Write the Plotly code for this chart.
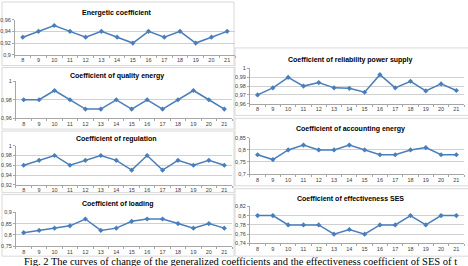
import plotly.graph_objects as go

W, H = 468, 266

hours = [8, 9, 10, 11, 12, 13, 14, 15, 16, 17, 18, 19, 20, 21]

energetic = [0.93, 0.94, 0.95, 0.94, 0.93, 0.94, 0.93, 0.92, 0.94, 0.93, 0.94, 0.92, 0.93, 0.94]
quality = [0.98, 0.98, 0.99, 0.98, 0.97, 0.97, 0.98, 0.97, 0.98, 0.97, 0.98, 0.99, 0.98, 0.97]
regulation = [0.96, 0.97, 0.98, 0.96, 0.97, 0.98, 0.97, 0.95, 0.98, 0.95, 0.97, 0.96, 0.97, 0.96]
loading = [0.81, 0.82, 0.83, 0.84, 0.87, 0.82, 0.83, 0.86, 0.87, 0.87, 0.85, 0.83, 0.85, 0.83]
reliability = [0.970, 0.978, 0.990, 0.980, 0.984, 0.978, 0.9775, 0.973, 0.993, 0.978, 0.9855, 0.9745, 0.9825, 0.975]
accounting = [0.78, 0.76, 0.80, 0.82, 0.80, 0.80, 0.82, 0.80, 0.78, 0.78, 0.80, 0.81, 0.78, 0.78]
effectiveness = [0.80, 0.80, 0.78, 0.78, 0.78, 0.76, 0.77, 0.76, 0.78, 0.78, 0.80, 0.78, 0.80, 0.80]

ticks_energetic = [0.9, 0.92, 0.94, 0.96]
labels_energetic = ["0,9", "0,92", "0,94", "0,96"]
ticks_quality = [0.96, 0.98, 1.0]
labels_quality = ["0,96", "0,98", "1"]
ticks_regulation = [0.92, 0.94, 0.96, 0.98, 1.0]
labels_regulation = ["0,92", "0,94", "0,96", "0,98", "1"]
ticks_loading = [0.75, 0.8, 0.85, 0.9]
labels_loading = ["0,75", "0,8", "0,85", "0,9"]
ticks_reliability = [0.96, 0.97, 0.98, 0.99, 1.0]
labels_reliability = ["0,96", "0,97", "0,98", "0,99", "1"]
ticks_accounting = [0.7, 0.75, 0.8, 0.85]
labels_accounting = ["0,7", "0,75", "0,8", "0,85"]
ticks_effectiveness = [0.74, 0.76, 0.78, 0.8, 0.82]
labels_effectiveness = ["0,74", "0,76", "0,78", "0,8", "0,82"]

titles = ["Energetic coefficient", "Coefficient of quality energy", "Coefficient of regulation",
          "Coefficient of loading", "Coefficient of reliability power supply",
          "Coefficient of accounting energy", "Coefficient of effectiveness SES"]

caption = "Fig. 2 The curves of change of the generalized coefficients and the effectiveness coefficient of SES of t"

series = [energetic, quality, regulation, loading, reliability, accounting, effectiveness]
tickv = [ticks_energetic, ticks_quality, ticks_regulation, ticks_loading,
         ticks_reliability, ticks_accounting, ticks_effectiveness]
tickt = [labels_energetic, labels_quality, labels_regulation, labels_loading,
         labels_reliability, labels_accounting, labels_effectiveness]

# layout (pixels): x-domain, y-domain (top,bottom), title y, title x-center, box (x0,y0,x1,y1)
geom = [
    ((13, 234), (17, 53), 10, 115, (0, -1, 233, 64)),
    ((14, 231), (80, 118), 75, 115, (0, 66, 233, 129)),
    ((14, 231), (146, 186), 139, 115, (0, 131, 233, 194)),
    ((14, 231), (214, 249), 206, 116, (0, 196, 233, 259)),
    ((249, 464), (67, 103), 58, 350, (234, 46, 470, 115)),
    ((249, 464), (138, 175), 129, 350, (234, 118, 470, 187)),
    ((249, 464), (208, 246), 200, 350, (234, 190, 470, 259)),
]

LINE = "#4a7ebb"
GRID = "#d0d0d0"
AX = "#a6a6a6"
TXT = "#404040"

fig = go.Figure()
layout = dict(width=W, height=H, margin=dict(l=0, r=0, t=0, b=0),
              paper_bgcolor="white", plot_bgcolor="white", showlegend=False,
              annotations=[], shapes=[])

for i, (vals, tv, tt, g) in enumerate(zip(series, tickv, tickt, geom)):
    (xa, xb), (yt, yb), ty, tx, box = g
    n = "" if i == 0 else str(i + 1)
    fig.add_trace(go.Scatter(x=hours, y=vals, mode="lines+markers",
                             line=dict(color=LINE, width=1.5),
                             marker=dict(symbol="diamond", size=4, color=LINE),
                             xaxis="x" + n, yaxis="y" + n, hoverinfo="skip"))
    layout["xaxis" + n] = dict(domain=[xa / W, xb / W], anchor="y" + n,
                               range=[7.5, 21.5], tickvals=hours,
                               ticktext=[str(h) for h in hours],
                               ticks="", showgrid=False, zeroline=False,
                               showline=True, linecolor=AX, linewidth=1,
                               tickfont=dict(size=5.5, color=TXT, family="Liberation Sans"),
                               minor=dict(tick0=7.5, dtick=1, ticks="outside", ticklen=2,
                                          tickcolor=AX, showgrid=False),
                               fixedrange=True)
    pad = (tv[-1] - tv[0]) * 1e-6
    layout["yaxis" + n] = dict(domain=[1 - yb / H, 1 - yt / H], anchor="x" + n,
                               range=[tv[0] - pad, tv[-1] + pad], tickvals=tv, ticktext=tt,
                               showgrid=True, gridcolor=GRID, gridwidth=1, zeroline=False,
                               showline=True, linecolor=AX, linewidth=1,
                               ticks="outside", ticklen=2, tickcolor=AX,
                               tickfont=dict(size=5.5, color=TXT, family="Liberation Sans"),
                               fixedrange=True)
    layout["annotations"].append(dict(text="<b>" + titles[i] + "</b>", xref="paper", yref="paper",
                                      x=tx / W, y=1 - ty / H, xanchor="center", yanchor="middle",
                                      showarrow=False,
                                      font=dict(size=7, color="#000000", family="Liberation Sans")))
    x0, y0, x1, y1 = box
    layout["shapes"].append(dict(type="rect", xref="paper", yref="paper",
                                 x0=x0 / W, x1=x1 / W, y0=1 - y1 / H, y1=1 - y0 / H,
                                 line=dict(color="#d9d9d9", width=1), layer="below"))

layout["annotations"].append(dict(text=caption, xref="paper", yref="paper",
                                  x=20 / W, y=1 - 257 / H, xanchor="left", yanchor="top",
                                  showarrow=False,
                                  font=dict(size=10.5, color="#000000", family="Liberation Serif")))

fig.update_layout(**layout)
fig.write_html("out.html")
